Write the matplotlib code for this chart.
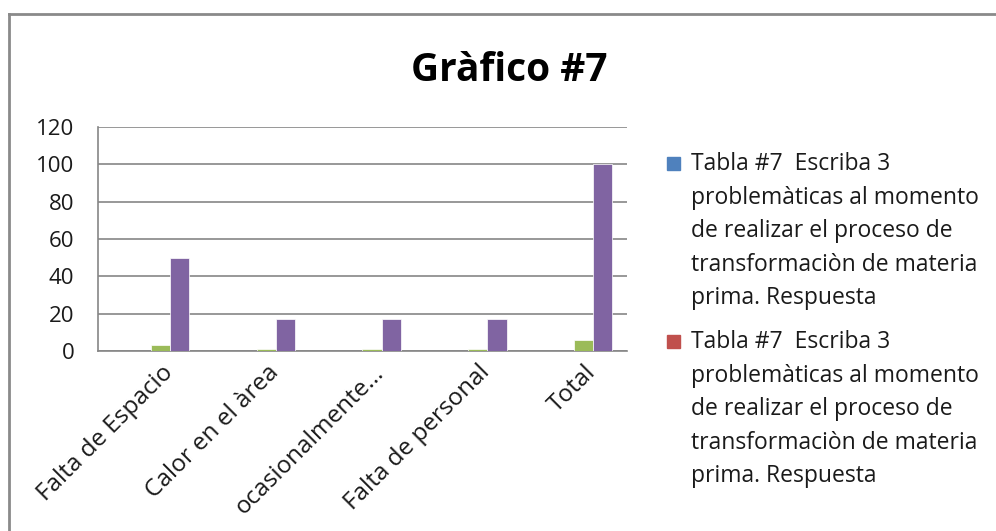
import numpy as np
import matplotlib.pyplot as plt
from matplotlib.patches import Rectangle
from matplotlib.lines import Line2D
from matplotlib.transforms import ScaledTranslation

plt.rcParams['font.family'] = ['Open Sans', 'DejaVu Sans']

categorias = ['Falta de Espacio', 'Calor en el àrea', 'ocasionalmente...', 'Falta de personal', 'Total']
serie_azul = [0, 0, 0, 0, 0]
serie_roja = [0, 0, 0, 0, 0]
serie_verde = [3, 1, 1, 1, 6]
serie_morada = [50, 17, 17, 17, 100]
nombre_serie = ('Tabla #7  Escriba 3\nproblemàticas al momento\nde realizar el proceso de\n'
                'transformaciòn de materia\nprima. Respuesta')
colores = ['#4F81BD', '#C0504D', '#9BBB59', '#8064A2']

fig = plt.figure(figsize=(9.96, 5.31), dpi=100)
ax = fig.add_axes([0.0984, 0.339, 0.531, 0.422])

x = np.arange(len(categorias))
w = 1 / 5.5
series = [serie_azul, serie_roja, serie_verde, serie_morada]
for i, s in enumerate(series):
    ax.bar(x + (i - 1.5) * w, s, width=w, color=colores[i], edgecolor='white', linewidth=0.5, zorder=3)

ax.set_xlim(-0.5, len(categorias) - 0.5)
ax.set_ylim(0, 120)
ax.set_yticks(np.arange(0, 121, 20))
ax.yaxis.grid(True, color='#868686', linewidth=1.2, zorder=0)
ax.tick_params(axis='y', length=0, pad=17, labelsize=16, labelcolor='#1a1a1a')
ax.tick_params(axis='x', length=0, pad=7)
ax.set_xticks(x)
ax.set_xticklabels(categorias, rotation=45, ha='right', va='top', rotation_mode='anchor',
                   fontsize=17.5, color='#1a1a1a')
desplaza = ScaledTranslation(10 / 100, 0, fig.dpi_scale_trans)
for lab in ax.get_xticklabels():
    lab.set_transform(lab.get_transform() + desplaza)
for sp in ['top', 'right']:
    ax.spines[sp].set_visible(False)
ax.spines['left'].set_color('#868686')
ax.spines['bottom'].set_color('#868686')
ax.spines['left'].set_linewidth(1.2)
ax.spines['bottom'].set_linewidth(1.2)

fig.text(0.511, 0.868, 'Gràfico #7', ha='center', va='center', fontsize=28, fontweight='bold')

# leyenda
for k, y0 in enumerate([163, 341]):
    fig.patches.append(Rectangle((667 / 996, 1 - (y0 + 7) / 531), 13 / 996, 13 / 531,
                                 transform=fig.transFigure, color=colores[k]))
    fig.text(691 / 996, 1 - (y0 - 11) / 531, nombre_serie, ha='left', va='top',
             fontsize=16.5, linespacing=1.53, color='#1a1a1a')

# marco
fig.add_artist(Line2D([9 / 996, 1], [1 - 14 / 531] * 2, color='#8a8a8a', linewidth=2))
fig.add_artist(Line2D([9 / 996] * 2, [0, 1 - 14 / 531], color='#8a8a8a', linewidth=2))

fig.savefig('out.png', dpi=100)
